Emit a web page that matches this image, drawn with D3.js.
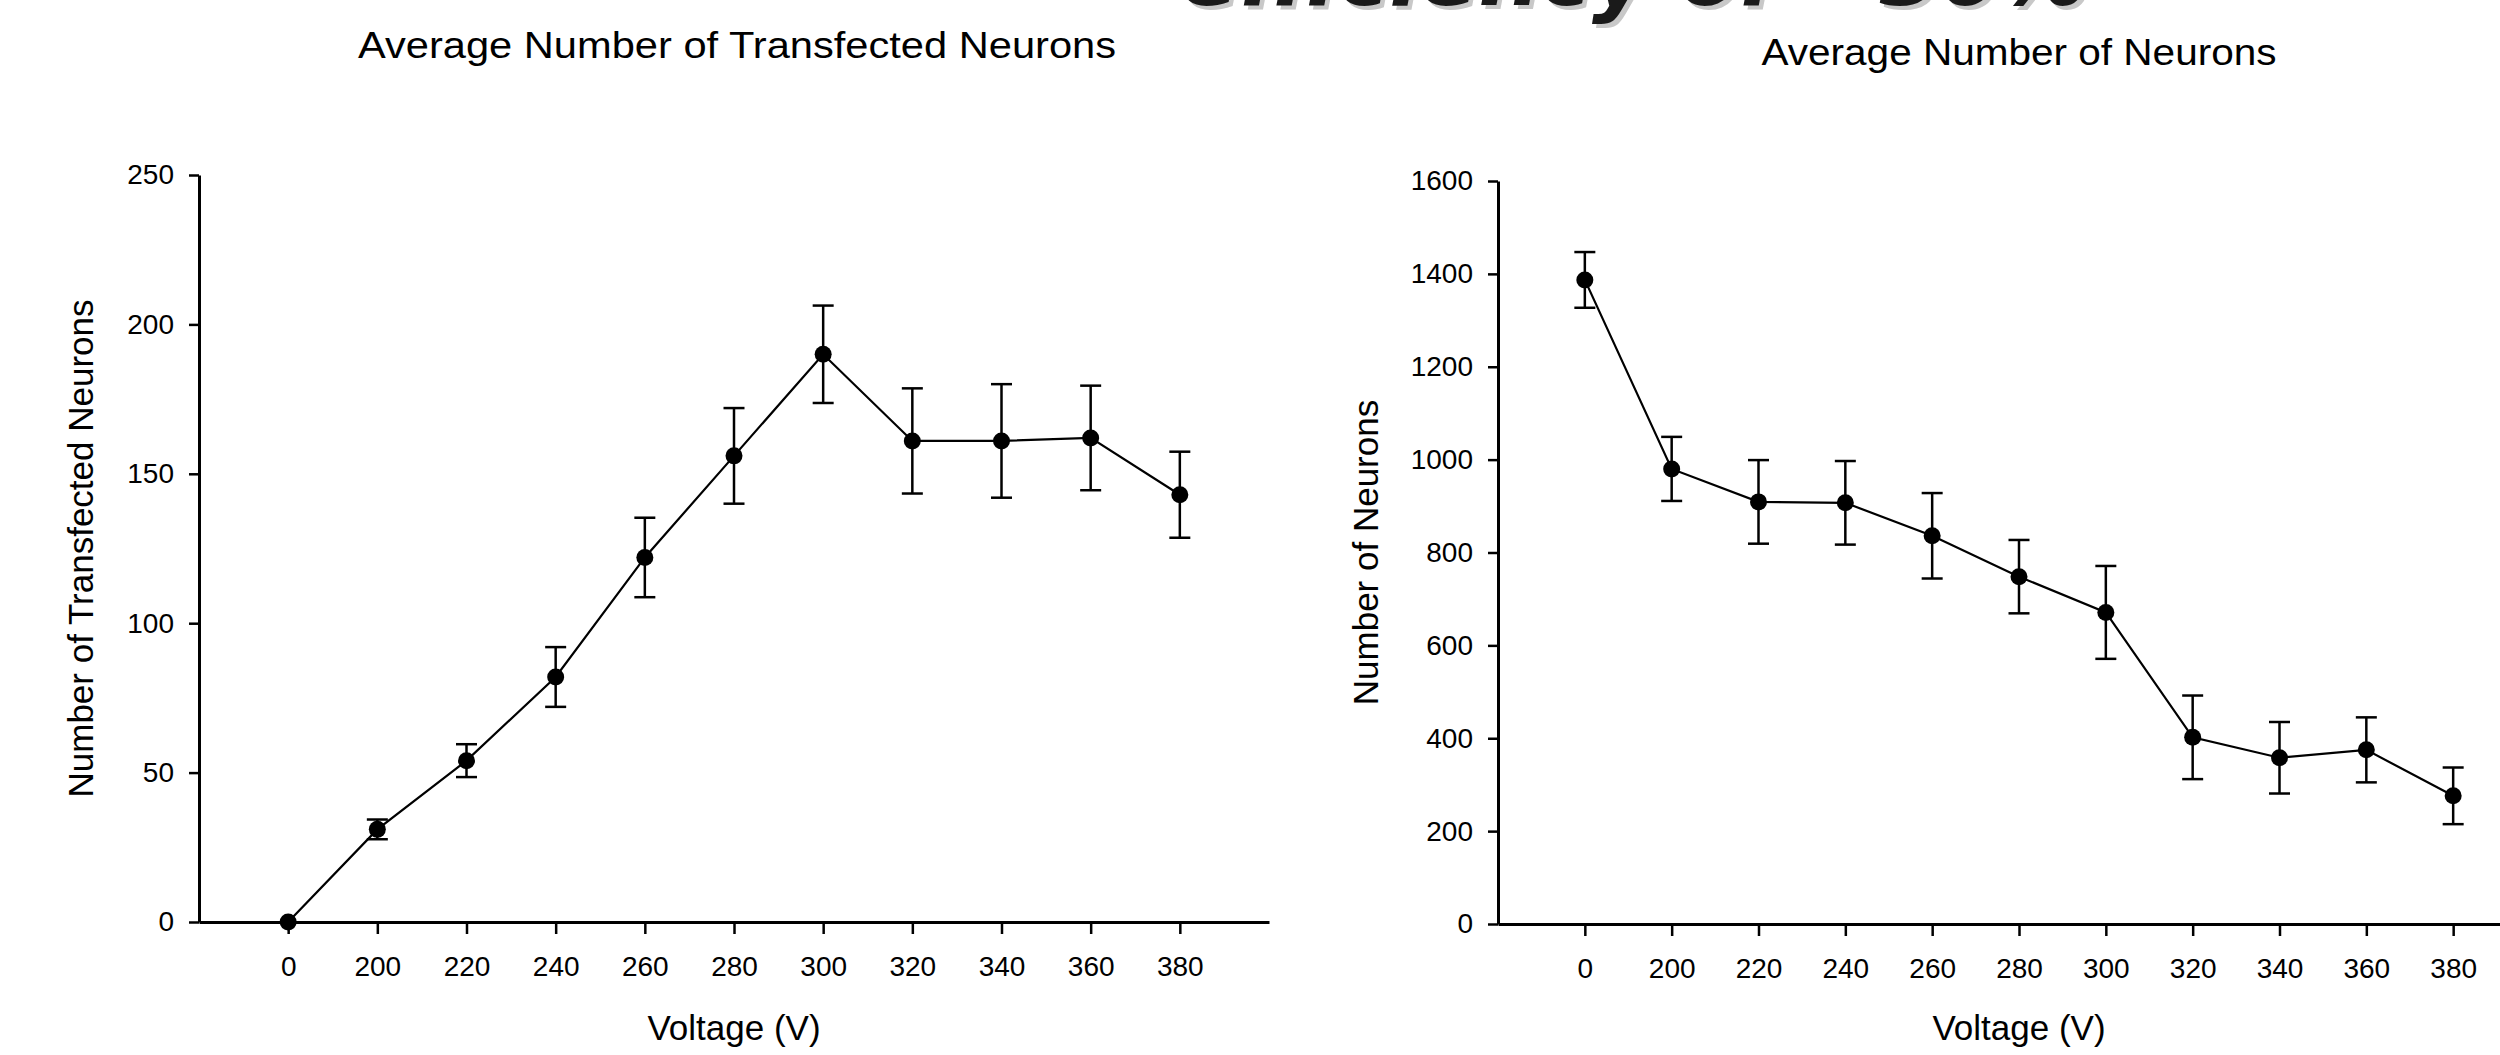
<!DOCTYPE html>
<html>
<head>
<meta charset="utf-8">
<script src="https://cdn.jsdelivr.net/npm/d3@7"></script>
<style>
  html, body { margin: 0; padding: 0; background: #fff; }
  svg { display: block; }
  text { font-family: "Liberation Sans", Arial, sans-serif; fill: #000; }
</style>
</head>
<body>
<div id="chart"></div>
<script>
// ---------- data ----------
const voltages = ["0", "200", "220", "240", "260", "280", "300", "320", "340", "360", "380"];

const transfectedMean = [0, 31, 54, 82, 122, 156, 190, 161, 161, 162, 143];
const transfectedErr  = [0, 3.3, 5.5, 10, 13.3, 16, 16.3, 17.6, 19, 17.5, 14.4];

const neuronMean = [1387, 980, 909, 907, 836, 748, 671, 402, 358, 375, 276];
const neuronErr  = [60, 69, 90, 90, 92, 79, 100, 90, 77, 70, 61];

const transfectedTicks = [0, 50, 100, 150, 200, 250];
const neuronTicks = [0, 200, 400, 600, 800, 1000, 1200, 1400, 1600];

// ---------- svg ----------
const width = 2500;
const height = 1055;

const svg = d3.select("#chart").append("svg")
    .attr("width", width)
    .attr("height", height);

// headline of the slide, cut off at the top edge (as on the original)
const headline = "efficiency of ~30%";
svg.append("text")
    .attr("x", 1184).attr("y", 9)
    .attr("textLength", 908).attr("lengthAdjust", "spacingAndGlyphs")
    .style("font-family", "DejaVu Sans")
    .style("font-weight", "bold").style("font-style", "italic")
    .style("font-size", "88px")
    .style("fill", "#c8c8c8")
    .text(headline);
svg.append("text")
    .attr("x", 1180).attr("y", 5)
    .attr("textLength", 908).attr("lengthAdjust", "spacingAndGlyphs")
    .style("font-family", "DejaVu Sans")
    .style("font-weight", "bold").style("font-style", "italic")
    .style("font-size", "88px")
    .style("fill", "#1a1a1a")
    .text(headline);

// Draw one panel
function drawPanel(cfg) {
    const x = d3.scalePoint()
        .domain(voltages)
        .range([cfg.left, cfg.right])
        .padding(1);

    const y = d3.scaleLinear()
        .domain([0, d3.max(cfg.ticks)])
        .range([cfg.bottom, cfg.top]);

    const g = svg.append("g");

    // axes
    const yAxis = g.append("g")
        .attr("transform", `translate(${cfg.left},0)`)
        .call(d3.axisLeft(y)
            .tickValues(cfg.ticks)
            .tickFormat(d3.format("d"))
            .tickSize(10).tickSizeOuter(0).tickPadding(15));

    const xAxis = g.append("g")
        .attr("transform", `translate(0,${cfg.bottom})`)
        .call(d3.axisBottom(x).tickSize(12).tickSizeOuter(0).tickPadding(22));

    [yAxis, xAxis].forEach(a => {
        a.select(".domain").attr("stroke", "#000").attr("stroke-width", 3);
        a.selectAll(".tick line").attr("stroke", "#000").attr("stroke-width", 2.5);
        a.selectAll(".tick text")
            .style("font-family", "Liberation Sans, Arial, sans-serif")
            .style("font-size", "28px")
            .attr("fill", "#000");
    });

    // titles
    g.append("text")
        .attr("x", cfg.titleX).attr("y", cfg.titleY)
        .attr("text-anchor", "middle")
        .attr("textLength", cfg.titleLen).attr("lengthAdjust", "spacingAndGlyphs")
        .style("font-size", "36px")
        .text(cfg.title);

    g.append("text")
        .attr("x", cfg.xLabelX).attr("y", 1040)
        .attr("text-anchor", "middle")
        .style("font-size", "35px")
        .text("Voltage (V)");

    g.append("text")
        .attr("transform", `translate(${cfg.yLabelX},${(cfg.top + cfg.bottom) / 2}) rotate(-90)`)
        .attr("text-anchor", "middle")
        .style("font-size", "35px")
        .text(cfg.yLabel);

    const pts = voltages.map((v, i) => ({ v, m: cfg.mean[i], e: cfg.err[i] }));

    // connecting line
    const line = d3.line()
        .x(d => x(d.v))
        .y(d => y(d.m));

    g.append("path")
        .datum(pts)
        .attr("fill", "none")
        .attr("stroke", "#000")
        .attr("stroke-width", 2.2)
        .attr("d", line);

    // error bars
    const capW = 10.5;
    const bars = g.selectAll(".err")
        .data(pts.filter(d => d.e > 0))
        .join("g")
        .attr("stroke", "#000")
        .attr("stroke-width", 2.5);

    bars.append("line")
        .attr("x1", d => x(d.v)).attr("x2", d => x(d.v))
        .attr("y1", d => y(d.m - d.e)).attr("y2", d => y(d.m + d.e));
    bars.append("line")
        .attr("x1", d => x(d.v) - capW).attr("x2", d => x(d.v) + capW)
        .attr("y1", d => y(d.m + d.e)).attr("y2", d => y(d.m + d.e));
    bars.append("line")
        .attr("x1", d => x(d.v) - capW).attr("x2", d => x(d.v) + capW)
        .attr("y1", d => y(d.m - d.e)).attr("y2", d => y(d.m - d.e));

    // markers
    g.selectAll(".pt")
        .data(pts)
        .join("circle")
        .attr("cx", d => x(d.v))
        .attr("cy", d => y(d.m))
        .attr("r", 8.5)
        .attr("fill", "#000");
}

drawPanel({
    left: 199, right: 1269, top: 175, bottom: 922,
    ticks: transfectedTicks,
    mean: transfectedMean, err: transfectedErr,
    title: "Average Number of Transfected Neurons",
    titleX: 737, titleY: 58, titleLen: 758,
    yLabel: "Number of Transfected Neurons", yLabelX: 93,
    xLabelX: 734
});

drawPanel({
    left: 1498, right: 2540, top: 181, bottom: 924,
    ticks: neuronTicks,
    mean: neuronMean, err: neuronErr,
    title: "Average Number of Neurons",
    titleX: 2019, titleY: 65, titleLen: 515,
    yLabel: "Number of Neurons", yLabelX: 1378,
    xLabelX: 2019
});
</script>
</body>
</html>
